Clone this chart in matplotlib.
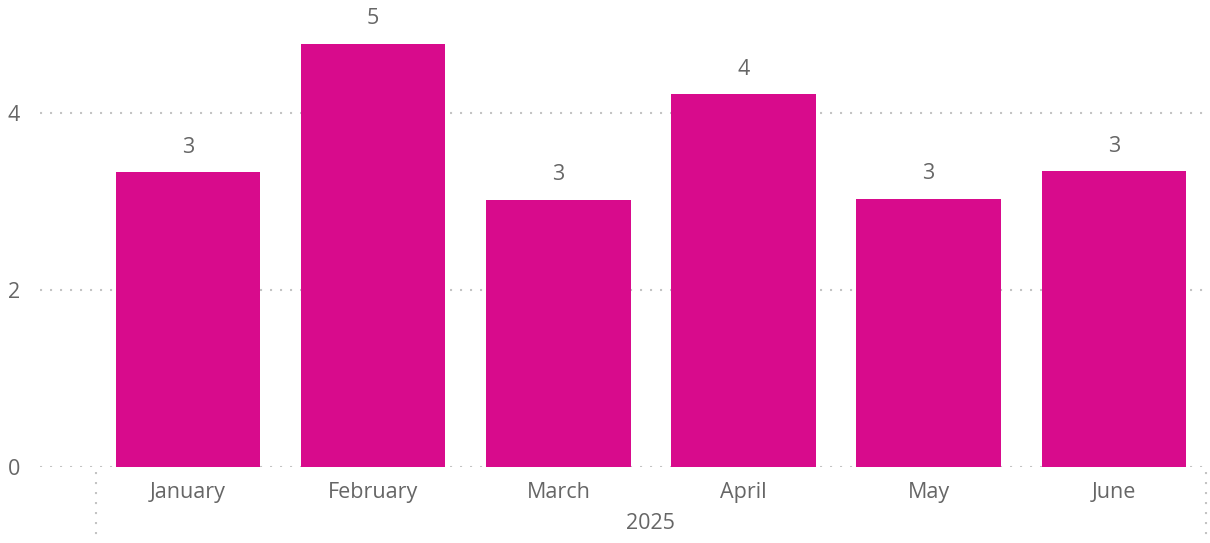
import matplotlib.pyplot as plt
from matplotlib.transforms import blended_transform_factory

# Data
months = ["January", "February", "March", "April", "May", "June"]
values = [3.33, 4.78, 3.02, 4.21, 3.03, 3.34]
labels = ["3", "5", "3", "4", "3", "3"]
year = "2025"

bar_color = "#D80B8C"
text_color = "#666666"
grid_color = "#c4c4c4"
dots = (0, (1, 3.8))

plt.rcParams['font.family'] = ['Open Sans', 'DejaVu Sans']

W, H = 1210, 543
fig = plt.figure(figsize=(W / 100, H / 100), dpi=100)
ax = fig.add_axes([40 / W, 76 / H, 1170 / W, 467 / H])

x = list(range(len(months)))
ax.bar(x, values, width=0.78, color=bar_color, zorder=2)

ax.set_xlim(-0.80, 5.52)
ax.set_ylim(0, 5.277)

# dotted horizontal gridlines (0, 2, 4)
for yv in [0, 2, 4]:
    ax.axhline(yv, color=grid_color, lw=1.5, linestyle=dots, zorder=1)

ax.set_yticks([0, 2, 4])
ax.set_yticklabels(["0", "2", "4"])
ax.set_xticks(x)
ax.set_xticklabels(months)
ax.tick_params(axis='y', length=0, pad=14.5, labelsize=15.5, labelcolor=text_color)
ax.tick_params(axis='x', length=0, pad=11, labelsize=15.5, labelcolor=text_color)

for s in ax.spines.values():
    s.set_visible(False)

# value labels above bars
for xi, v, lab in zip(x, values, labels):
    ax.annotate(lab, (xi, v), xytext=(0, 18), textcoords='offset points',
                ha='center', va='center', fontsize=15.5, color=text_color)

# year group label and dotted separators below axis
trans = blended_transform_factory(ax.transData, ax.transAxes)
for xv in [-0.5, 5.5]:
    ax.plot([xv, xv], [-0.01, -0.15], transform=trans, clip_on=False,
            color=grid_color, lw=1.5, linestyle=dots)
ax.text(2.5, -0.122, year, transform=trans, ha='center', va='center',
        fontsize=15.5, color=text_color)

fig.savefig("out.png", dpi=100)
